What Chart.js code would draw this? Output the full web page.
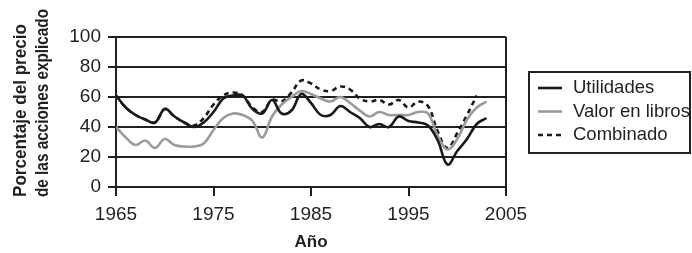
<!DOCTYPE html>
<html>
<head>
<meta charset="utf-8">
<script src="https://cdn.jsdelivr.net/npm/chart.js@4.4.0/dist/chart.umd.min.js"></script>
<style>
  html, body { margin: 0; padding: 0; background: #fff; }
  #wrap { width: 692px; height: 253px; position: relative; }
</style>
</head>
<body>
<div id="wrap"><canvas id="c" width="692" height="253"></canvas></div>
<script>
const years = [1965,1966,1967,1968,1969,1970,1971,1972,1973,1974,1975,1976,1977,1978,1979,1980,1981,1982,1983,1984,1985,1986,1987,1988,1989,1990,1991,1992,1993,1994,1995,1996,1997,1998,1999,2000,2001,2002,2003];
const utilidades = [61,53,48,45,43,52,47,43,40,43,50,59,61,61,52,49,58,49,51,62,56,48,48,54,50,46,40,42,40,47,44,43,41,31,15,24,32,42,46];
const valorLibros = [40,33,28,31,26,32,28,27,27,29,38,46,49,48,44,33,47,55,60,64,62,59,57,60,56,51,47,50,48,48,48,50,49,34,25,32,45,53,57];
const combinado = [61,53,48,45,43,52,47,43,41,46,55,61,63,61,53,50,58,57,63,71,69,65,64,67,65,59,57,58,55,58,53,57,54,37,26,36,48,61,null];
const xTicks = [1965,1975,1985,1995,2005];
const yTicks = [0,20,40,60,80,100];
const seriesNames = ['Utilidades','Valor en libros','Combinado'];
const yTitleLines = ['Porcentaje del precio','de las acciones explicado'];
const xTitle = 'Año';

const ink = '#231f20';
const FONT = "'Liberation Sans', Arial, sans-serif";

function pts(arr){ return years.map((y,i)=>({x:y, y:arr[i]})); }

const legendPlugin = {
  id: 'customLegend',
  afterDraw(chart) {
    const ctx = chart.ctx;
    ctx.save();
    ctx.strokeStyle = ink;
    ctx.lineWidth = 2;
    ctx.strokeRect(529, 72, 161, 81);
    const rows = [88, 111.5, 135];
    chart.data.datasets.forEach((ds, i) => {
      const y = rows[i];
      ctx.beginPath();
      ctx.strokeStyle = ds.borderColor;
      ctx.lineWidth = ds.borderWidth;
      ctx.setLineDash(ds.borderDash || []);
      ctx.moveTo(538, y);
      ctx.lineTo(562, y);
      ctx.stroke();
      ctx.setLineDash([]);
      ctx.fillStyle = ink;
      ctx.font = "18.5px " + FONT;
      ctx.textBaseline = 'middle';
      ctx.textAlign = 'left';
      ctx.fillText(ds.label, 573, y);
    });
    ctx.translate(0, 197);
    ctx.rotate(-Math.PI / 2);
    ctx.fillStyle = ink;
    ctx.font = "bold 18px " + FONT;
    ctx.textBaseline = 'alphabetic';
    ctx.textAlign = 'left';
    ctx.fillText(yTitleLines[0], 0, 26, 173);
    ctx.fillText(yTitleLines[1], 0, 48, 188);
    ctx.restore();
  }
};

new Chart(document.getElementById('c'), {
  type: 'line',
  data: {
    datasets: [
      { label: seriesNames[0], data: pts(utilidades), borderColor: '#1a1a1a', borderWidth: 2.6, pointRadius: 0, tension: 0.4, fill: false },
      { label: seriesNames[1], data: pts(valorLibros), borderColor: '#9b9b9b', borderWidth: 2.6, pointRadius: 0, tension: 0.4, fill: false },
      { label: seriesNames[2], data: pts(combinado), borderColor: '#1a1a1a', borderWidth: 2.6, borderDash: [5,4], pointRadius: 0, tension: 0.4, fill: false, spanGaps: false }
    ]
  },
  options: {
    responsive: false,
    animation: false,
    devicePixelRatio: 1,
    layout: { padding: { left: 0, top: 37, right: 186, bottom: 0 } },
    plugins: { legend: { display: false }, tooltip: { enabled: false } },
    scales: {
      x: {
        type: 'linear',
        min: 1965, max: 2005,
        afterBuildTicks(scale) { scale.ticks = xTicks.map(v => ({ value: v })); },
        afterFit(scale) { scale.height = 66; },
        ticks: {
          color: ink,
          font: { family: FONT, size: 19 },
          padding: 7,
          maxRotation: 0,
          autoSkip: false,
          callback: v => String(v)
        },
        grid: {
          drawOnChartArea: true,
          color: c => (c.tick && c.tick.value === 2005) ? ink : 'rgba(0,0,0,0)',
          lineWidth: 2,
          tickColor: ink,
          tickLength: 9
        },
        border: { display: true, color: ink, width: 2 },
        title: {
          display: true,
          text: xTitle,
          color: ink,
          font: { family: FONT, size: 17, weight: 'bold' },
          padding: { top: 0, bottom: 0 }
        }
      },
      y: {
        min: 0, max: 100,
        afterBuildTicks(scale) { scale.ticks = yTicks.map(v => ({ value: v })); },
        afterFit(scale) { scale.width = 116; },
        ticks: {
          color: ink,
          font: { family: FONT, size: 19 },
          padding: 7
        },
        grid: {
          color: ink,
          lineWidth: 2,
          tickColor: ink,
          tickLength: 8
        },
        border: { display: true, color: ink, width: 2 }
      }
    }
  },
  plugins: [legendPlugin]
});
</script>
</body>
</html>
